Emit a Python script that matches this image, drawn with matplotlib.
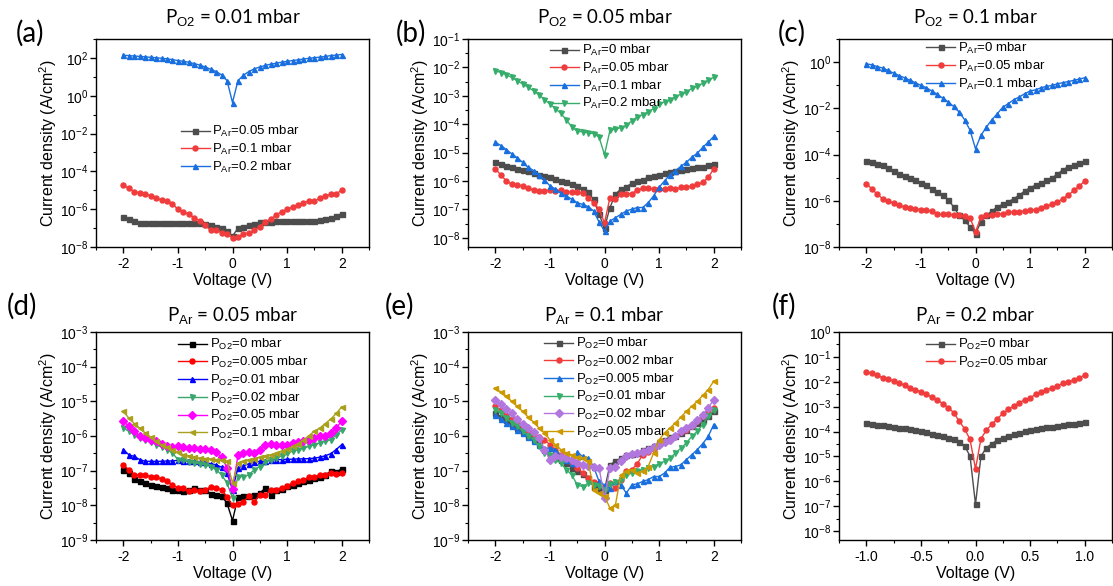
"""
I-V curves (log current density) for films grown at different O2 / Ar pressures
"""

import numpy as np
import matplotlib.pyplot as plt
from matplotlib.ticker import FixedLocator, MultipleLocator, LogFormatterSciNotation, NullFormatter

plt.rcParams['font.family'] = 'Liberation Sans'
plt.rcParams['mathtext.fontset'] = 'custom'
plt.rcParams['mathtext.rm'] = 'Liberation Sans'
plt.rcParams['mathtext.it'] = 'Liberation Sans:italic'
plt.rcParams['axes.unicode_minus'] = False

###############################################################################
### Data: log10 of current density (A/cm2)
volt_2 = [-2.0,-1.9,-1.8,-1.7,-1.6,-1.5,-1.4,-1.3,-1.2,-1.1,
          -1.0,-0.9,-0.8,-0.7,-0.6,-0.5,-0.4,-0.3,-0.2,-0.1,
          0.0,
          0.1,0.2,0.3,0.4,0.5,0.6,0.7,0.8,0.9,1.0,
          1.1,1.2,1.3,1.4,1.5,1.6,1.7,1.8,1.9,2.0]
volt_1 = [-1.0,-0.95,-0.9,-0.85,-0.8,-0.75,-0.7,-0.65,-0.6,-0.55,
          -0.5,-0.45,-0.4,-0.35,-0.3,-0.25,-0.2,-0.15,-0.1,-0.05,
          0.0,
          0.05,0.1,0.15,0.2,0.25,0.3,0.35,0.4,0.45,0.5,
          0.55,0.6,0.65,0.7,0.75,0.8,0.85,0.9,0.95,1.0]

### (a) PO2 = 0.01 mbar
a_ar005 = [-6.41,-6.54,-6.62,-6.71,-6.71,-6.71,-6.71,-6.71,-6.71,-6.71,
           -6.71,-6.72,-6.72,-6.73,-6.75,-6.80,-6.82,-6.94,-7.01,-7.15,
           -7.42,
           -7.01,-6.94,-6.83,-6.76,-6.69,-6.66,-6.66,-6.65,-6.65,-6.64,
           -6.63,-6.63,-6.62,-6.61,-6.60,-6.58,-6.54,-6.47,-6.36,-6.24]
a_ar01 = [-4.72,-4.90,-5.07,-5.13,-5.18,-5.30,-5.39,-5.53,-5.57,-5.71,
          -6.01,-6.13,-6.27,-6.45,-6.62,-6.85,-7.12,-7.12,-7.24,-7.33,
          -7.51,
          -7.45,-7.33,-7.24,-7.12,-6.94,-6.66,-6.54,-6.31,-6.13,-6.01,
          -5.88,-5.78,-5.65,-5.57,-5.55,-5.43,-5.30,-5.21,-5.18,-5.00]
a_ar02 = [2.14,2.12,2.10,2.08,2.06,2.03,2.01,1.98,1.95,1.91,
          1.86,1.82,1.77,1.70,1.62,1.52,1.40,1.28,1.10,0.80,
          -0.36,
          0.80,1.08,1.28,1.42,1.52,1.60,1.67,1.72,1.77,1.82,
          1.86,1.90,1.94,1.98,2.01,2.04,2.08,2.12,2.15,2.18]

### (b) PO2 = 0.05 mbar
b_ar0 = [-5.34,-5.40,-5.46,-5.52,-5.57,-5.61,-5.66,-5.73,-5.78,-5.83,
         -5.87,-5.93,-5.99,-6.05,-6.11,-6.17,-6.28,-6.40,-6.64,-7.17,
         -7.64,
         -6.93,-6.46,-6.28,-6.20,-6.08,-5.99,-5.95,-5.87,-5.81,-5.78,
         -5.73,-5.69,-5.66,-5.61,-5.57,-5.55,-5.52,-5.49,-5.45,-5.40]
b_ar005 = [-5.57,-5.78,-5.99,-6.11,-6.13,-6.17,-6.25,-6.32,-6.34,-6.34,
           -6.32,-6.34,-6.32,-6.37,-6.37,-6.40,-6.43,-6.58,-6.76,-6.99,
           -7.47,
           -6.58,-6.64,-6.46,-6.44,-6.44,-6.32,-6.25,-6.25,-6.28,-6.28,
           -6.28,-6.25,-6.28,-6.22,-6.22,-6.17,-6.11,-6.05,-5.87,-5.57]
b_ar01 = [-4.63,-4.75,-4.89,-5.04,-5.18,-5.34,-5.52,-5.63,-5.78,-5.95,
          -6.17,-6.28,-6.43,-6.52,-6.64,-6.76,-6.82,-6.90,-7.05,-7.44,
          -7.76,
          -7.41,-7.29,-7.17,-7.05,-6.99,-6.93,-6.93,-6.76,-6.52,-6.22,
          -5.99,-5.78,-5.63,-5.48,-5.34,-5.16,-5.02,-4.81,-4.63,-4.43]
b_ar02 = [-2.11,-2.18,-2.26,-2.35,-2.47,-2.58,-2.70,-2.82,-2.97,-3.13,
          -3.29,-3.45,-3.62,-3.84,-4.10,-4.24,-4.27,-4.30,-4.33,-4.45,
          -5.07,
          -4.22,-4.16,-4.12,-4.04,-3.88,-3.74,-3.66,-3.56,-3.45,-3.29,
          -3.21,-3.13,-3.03,-2.94,-2.86,-2.74,-2.65,-2.56,-2.44,-2.35]

### (c) PO2 = 0.1 mbar
c_ar0 = [-4.28,-4.32,-4.39,-4.47,-4.57,-4.71,-4.83,-4.93,-5.00,-5.09,
         -5.23,-5.33,-5.48,-5.62,-5.76,-5.95,-6.27,-6.63,-6.84,-7.13,
         -7.42,
         -6.92,-6.63,-6.44,-6.27,-6.15,-6.05,-5.91,-5.76,-5.58,-5.43,
         -5.33,-5.23,-5.12,-5.00,-4.86,-4.65,-4.54,-4.47,-4.37,-4.28]
c_ar005 = [-5.26,-5.48,-5.72,-5.91,-6.01,-6.10,-6.20,-6.27,-6.30,-6.34,
           -6.38,-6.41,-6.44,-6.59,-6.59,-6.59,-6.61,-6.63,-6.67,-6.73,
           -7.35,
           -6.70,-6.63,-6.63,-6.59,-6.56,-6.48,-6.48,-6.48,-6.44,-6.41,
           -6.38,-6.30,-6.24,-6.15,-6.05,-5.91,-5.76,-5.55,-5.37,-5.14]
c_ar01 = [-0.07,-0.12,-0.19,-0.26,-0.36,-0.48,-0.58,-0.68,-0.79,-0.89,
          -1.01,-1.11,-1.25,-1.40,-1.56,-1.73,-1.92,-2.16,-2.49,-2.95,
          -3.75,
          -3.17,-2.81,-2.49,-2.23,-1.95,-1.80,-1.63,-1.51,-1.37,-1.25,
          -1.20,-1.11,-1.05,-1.01,-0.94,-0.89,-0.84,-0.79,-0.73,-0.68]

### (d) PAr = 0.05 mbar
d_o0 = [-6.97,-7.07,-7.24,-7.31,-7.36,-7.41,-7.43,-7.46,-7.50,-7.55,
        -7.57,-7.60,-7.55,-7.50,-7.57,-7.57,-7.67,-7.70,-7.73,-7.94,
        -8.44,
        -7.76,-7.72,-7.72,-7.70,-7.65,-7.50,-7.70,-7.55,-7.53,-7.44,
        -7.41,-7.36,-7.31,-7.28,-7.21,-7.17,-7.12,-7.02,-7.05,-6.94]
d_o0005 = [-6.83,-6.97,-7.12,-7.12,-7.12,-7.17,-7.19,-7.24,-7.31,-7.41,
           -7.50,-7.50,-7.60,-7.55,-7.60,-7.57,-7.47,-7.50,-7.55,-7.76,
           -8.00,
           -7.97,-7.89,-7.74,-7.89,-7.70,-7.70,-7.55,-7.55,-7.50,-7.44,
           -7.36,-7.31,-7.26,-7.19,-7.17,-7.12,-7.12,-7.07,-7.09,-7.07]
d_o001 = [-6.39,-6.54,-6.59,-6.68,-6.73,-6.73,-6.73,-6.73,-6.72,-6.72,
          -6.70,-6.72,-6.73,-6.73,-6.74,-6.76,-6.80,-6.83,-6.90,-7.07,
          -7.55,
          -6.92,-6.86,-6.80,-6.76,-6.73,-6.73,-6.70,-6.68,-6.68,-6.67,
          -6.67,-6.66,-6.66,-6.65,-6.64,-6.61,-6.57,-6.51,-6.39,-6.25]
d_o002 = [-5.77,-5.86,-5.96,-6.06,-6.11,-6.18,-6.25,-6.32,-6.39,-6.49,
          -6.68,-6.70,-6.76,-6.78,-6.80,-6.83,-6.88,-6.97,-7.12,-7.36,
          -7.79,
          -7.17,-7.17,-7.12,-6.97,-6.88,-6.76,-6.68,-6.64,-6.57,-6.49,
          -6.44,-6.39,-6.35,-6.30,-6.25,-6.20,-6.15,-6.11,-5.96,-5.82]
d_o005 = [-5.57,-5.72,-5.86,-5.99,-6.06,-6.11,-6.15,-6.22,-6.28,-6.32,
          -6.30,-6.32,-6.35,-6.35,-6.37,-6.38,-6.39,-6.47,-6.61,-6.92,
          -7.53,
          -6.56,-6.49,-6.47,-6.49,-6.39,-6.25,-6.22,-6.25,-6.25,-6.25,
          -6.20,-6.18,-6.15,-6.11,-6.06,-6.01,-5.99,-5.91,-5.77,-5.57]
d_o01 = [-5.29,-5.48,-5.64,-5.77,-5.91,-6.03,-6.15,-6.25,-6.32,-6.39,
         -6.47,-6.54,-6.57,-6.61,-6.64,-6.65,-6.66,-6.68,-6.70,-6.73,
         -7.36,
         -6.78,-6.73,-6.68,-6.65,-6.61,-6.57,-6.54,-6.49,-6.44,-6.38,
         -6.30,-6.22,-6.11,-5.99,-5.86,-5.77,-5.64,-5.51,-5.35,-5.16]

### (e) PAr = 0.1 mbar
e_o0 = [-5.33,-5.45,-5.55,-5.67,-5.77,-5.89,-5.99,-6.11,-6.22,-6.39,
        -6.59,-6.64,-6.68,-6.78,-6.92,-7.02,-7.09,-7.21,-7.46,-7.50,
        -7.55,
        -6.83,-6.73,-6.64,-6.54,-6.51,-6.49,-6.41,-6.35,-6.28,-6.20,
        -6.11,-6.03,-5.99,-5.91,-5.82,-5.72,-5.62,-5.53,-5.43,-5.29]
e_o0002 = [-5.14,-5.26,-5.38,-5.51,-5.64,-5.77,-5.89,-5.96,-6.03,-6.11,
           -6.25,-6.39,-6.54,-6.64,-6.78,-6.92,-7.07,-7.21,-7.34,-7.36,
           -7.46,
           -7.36,-7.50,-7.26,-7.02,-6.97,-6.80,-6.54,-6.47,-6.38,-6.25,
           -6.18,-6.11,-6.01,-5.89,-5.82,-5.70,-5.57,-5.43,-5.31,-5.19]
e_o0005 = [-5.38,-5.51,-5.62,-5.72,-5.82,-5.91,-6.03,-6.15,-6.25,-6.35,
           -6.35,-6.39,-6.59,-6.68,-6.78,-6.47,-6.59,-6.64,-6.88,-7.31,
           -7.41,
           -7.50,-7.31,-7.41,-7.65,-7.41,-7.38,-7.31,-7.26,-7.17,-7.17,
           -7.07,-6.90,-6.88,-6.83,-6.68,-6.54,-6.39,-6.22,-6.01,-5.67]
e_o001 = [-5.24,-5.35,-5.48,-5.62,-5.72,-5.86,-5.99,-6.11,-6.30,-6.49,
          -6.54,-6.68,-6.78,-6.97,-7.12,-7.41,-7.46,-7.36,-7.41,-7.44,
          -7.55,
          -7.38,-7.34,-7.26,-7.12,-7.07,-7.02,-6.97,-6.92,-6.88,-6.80,
          -6.73,-6.64,-6.49,-6.35,-6.20,-6.01,-5.86,-5.67,-5.43,-5.26]
e_o002 = [-4.95,-5.09,-5.22,-5.35,-5.51,-5.64,-5.77,-5.89,-6.06,-6.39,
          -6.68,-6.57,-6.61,-6.64,-6.68,-6.78,-6.83,-6.86,-6.88,-6.92,
          -7.79,
          -6.92,-6.88,-6.73,-6.59,-6.51,-6.49,-6.47,-6.39,-6.32,-6.25,
          -6.18,-6.11,-6.01,-5.86,-5.77,-5.67,-5.53,-5.38,-5.19,-4.95]
e_o005 = [-4.61,-4.73,-4.85,-5.00,-5.14,-5.29,-5.45,-5.60,-5.77,-5.91,
          -6.11,-6.25,-6.39,-6.49,-6.54,-6.61,-6.64,-6.73,-7.55,-7.65,
          -7.74,
          -8.08,-7.99,-7.12,-7.02,-6.97,-7.07,-7.02,-6.88,-6.49,-6.11,
          -5.91,-5.77,-5.62,-5.45,-5.29,-5.14,-5.00,-4.83,-4.66,-4.42]

### (f) PAr = 0.2 mbar
f_o0 = [-3.65,-3.69,-3.73,-3.75,-3.78,-3.81,-3.85,-3.87,-3.89,-3.94,
        -3.98,-4.02,-4.08,-4.12,-4.18,-4.25,-4.32,-4.41,-4.58,-4.99,
        -6.93,
        -4.99,-4.65,-4.49,-4.34,-4.25,-4.16,-4.10,-4.05,-3.98,-3.94,
        -3.91,-3.87,-3.83,-3.81,-3.78,-3.75,-3.71,-3.69,-3.66,-3.62]
f_o005 = [-1.60,-1.66,-1.74,-1.84,-1.90,-1.97,-2.06,-2.14,-2.24,-2.33,
          -2.41,-2.51,-2.61,-2.73,-2.88,-3.04,-3.24,-3.58,-3.89,-4.32,
          -5.50,
          -4.29,-3.94,-3.71,-3.49,-3.27,-3.11,-2.98,-2.84,-2.73,-2.64,
          -2.51,-2.41,-2.33,-2.24,-2.17,-2.06,-2.01,-1.93,-1.84,-1.73]

###############################################################################
### Styles
gray,red,blue,green,purple,gold = '#4d4d4d','#f03c3c','#1a6fdf','#37ad6b','#b177de','#cc9900'
markers = ['s','o','^','v','D','<']
ar = r'P$_{\mathrm{Ar}}$'
o2 = r'P$_{\mathrm{O2}}$'

panels = [
    dict(tag='(a)', title=o2+' = 0.01 mbar', x=volt_2,
         ys=[a_ar005,a_ar01,a_ar02], cols=[gray,red,blue], mk=['s','o','^'],
         labs=[ar+'=0.05 mbar',ar+'=0.1 mbar',ar+'=0.2 mbar'],
         ylim=(-8,3), step=2, leg=(0.31,0.59)),
    dict(tag='(b)', title=o2+' = 0.05 mbar', x=volt_2,
         ys=[b_ar0,b_ar005,b_ar01,b_ar02], cols=[gray,red,blue,green], mk=['s','o','^','v'],
         labs=[ar+'=0 mbar',ar+'=0.05 mbar',ar+'=0.1 mbar',ar+'=0.2 mbar'],
         ylim=(-8.32,-1), step=1, leg=(0.30,0.98)),
    dict(tag='(c)', title=o2+' = 0.1 mbar', x=volt_2,
         ys=[c_ar0,c_ar005,c_ar01], cols=[gray,red,blue], mk=['s','o','^'],
         labs=[ar+'=0 mbar',ar+'=0.05 mbar',ar+'=0.1 mbar'],
         ylim=(-8,1), step=2, leg=(0.32,0.99)),
    dict(tag='(d)', title=ar+' = 0.05 mbar', x=volt_2,
         ys=[d_o0,d_o0005,d_o001,d_o002,d_o005,d_o01],
         cols=['#000000','#ff0000','#0000ff','#3aa66d','#ff00ff','#a9a11d'], mk=markers,
         labs=[o2+'=0 mbar',o2+'=0.005 mbar',o2+'=0.01 mbar',o2+'=0.02 mbar',o2+'=0.05 mbar',o2+'=0.1 mbar'],
         ylim=(-9,-3), step=1, leg=(0.30,0.975)),
    dict(tag='(e)', title=ar+' = 0.1 mbar', x=volt_2,
         ys=[e_o0,e_o0002,e_o0005,e_o001,e_o002,e_o005],
         cols=[gray,red,blue,green,purple,gold], mk=['s','o','^','v','D','<'],
         labs=[o2+'=0 mbar',o2+'=0.002 mbar',o2+'=0.005 mbar',o2+'=0.01 mbar',o2+'=0.02 mbar',o2+'=0.05 mbar'],
         ylim=(-9,-3), step=1, leg=(0.28,0.98)),
    dict(tag='(f)', title=ar+' = 0.2 mbar', x=volt_1,
         ys=[f_o0,f_o005], cols=[gray,red], mk=['s','o'],
         labs=[o2+'=0 mbar',o2+'=0.05 mbar'],
         ylim=(-8.36,0), step=1, leg=(0.32,0.975)),
]

###############################################################################
### Plot
fig = plt.figure(figsize=(11.13,5.86),dpi=100)

lefts = [96,468,839]
tops = [39,332]
w,h = 273,208
tagpos = [(30,33),(411,33),(792,33),(22,306),(399,306),(784,306)]
titley = [18,316]

for i,p in enumerate(panels):
    row,col = i//3,i%3
    ax = fig.add_axes([lefts[col]/1113,1-(tops[row]+h)/586,w/1113,h/586])

    for yv,c,m,l in zip(p['ys'],p['cols'],p['mk'],p['labs']):
        ax.plot(p['x'],10.0**np.array(yv),color=c,marker=m,markersize=3.6,
                linewidth=1,label=l,clip_on=False)

    ax.set_yscale('log')
    lo,hi = p['ylim']
    ax.set_ylim(10.0**lo,10.0**hi)
    if p['step'] == 2:
        majors = np.arange(-8.0,hi+0.1,2)
        minors = majors+1
    else:
        majors = np.arange(np.ceil(lo),hi+0.1,1.0)
        minors = np.arange(np.floor(lo),hi,1.0)+0.5
    ax.yaxis.set_major_locator(FixedLocator(10.0**majors))
    ax.yaxis.set_major_formatter(LogFormatterSciNotation())
    ax.yaxis.set_minor_locator(FixedLocator(10.0**minors))
    ax.yaxis.set_minor_formatter(NullFormatter())

    if i == 5:
        ax.set_xlim(-1.25,1.25)
        ax.xaxis.set_major_locator(MultipleLocator(0.5))
        ax.xaxis.set_minor_locator(MultipleLocator(0.25))
        ax.xaxis.set_major_formatter(plt.FormatStrFormatter('%.1f'))
    else:
        ax.set_xlim(-2.5,2.5)
        ax.xaxis.set_major_locator(MultipleLocator(1))
        ax.xaxis.set_minor_locator(MultipleLocator(0.5))

    ax.tick_params(which='both',direction='out',top=False,right=False,labelsize=10)
    ax.tick_params(which='major',length=4,width=1)
    ax.tick_params(which='minor',length=2.5,width=0.8)
    ax.tick_params(axis='y',which='major',pad=1.5)
    for s in ax.spines.values():
        s.set_linewidth(1)

    ax.set_xlabel('Voltage (V)',fontsize=11.5,labelpad=1)
    ax.set_ylabel(r'Current density (A/cm$^2$)',fontsize=11.5)
    ax.yaxis.set_label_coords(-0.135,0.5)

    ax.legend(loc='upper left',bbox_to_anchor=p['leg'],frameon=False,fontsize=9.5,
              handlelength=2.2,handletextpad=0.2,labelspacing=0.2,borderpad=0,
              borderaxespad=0)

    cx = (lefts[col]+w/2)/1113
    fig.text(cx,1-titley[row]/586,p['title'],fontsize=13.5,family='Lato',
             ha='center',va='center')
    fig.text(tagpos[i][0]/1113,1-tagpos[i][1]/586,p['tag'],fontsize=20,family='Lato',
             ha='center',va='center')

plt.savefig('out.png',dpi=100)
